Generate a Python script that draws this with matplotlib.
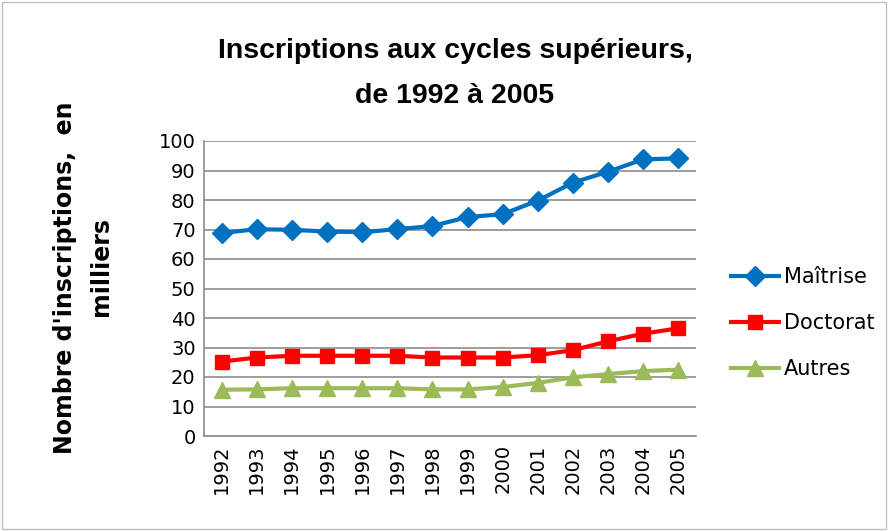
import matplotlib.pyplot as plt
from matplotlib.patches import Rectangle

# données (milliers d'inscriptions)
annees = ["1992", "1993", "1994", "1995", "1996", "1997", "1998",
          "1999", "2000", "2001", "2002", "2003", "2004", "2005"]
maitrise = [68.8, 70.1, 69.9, 69.3, 69.1, 70.1, 71.2,
            74.2, 75.2, 79.8, 85.9, 89.6, 93.8, 94.1]
doctorat = [25.2, 26.6, 27.2, 27.2, 27.2, 27.2, 26.6,
            26.6, 26.6, 27.4, 29.1, 32.1, 34.7, 36.5]
autres = [15.7, 15.8, 16.2, 16.2, 16.2, 16.2, 15.8,
          15.8, 16.6, 18.0, 19.9, 21.0, 22.0, 22.5]


def main():
    plt.rcParams["font.family"] = ["DejaVu Sans"]

    fig = plt.figure(figsize=(8.89, 5.31), dpi=100)
    ax = fig.add_axes([204 / 889, 1 - 436 / 531, 492 / 889, 295 / 531])

    x = range(len(annees))
    ax.plot(x, maitrise, color="#0070C0", marker="D", markersize=10.5,
            linewidth=3, label="Maîtrise")
    ax.plot(x, doctorat, color="#FF0000", marker="s", markersize=10.5,
            linewidth=3, label="Doctorat")
    ax.plot(x, autres, color="#9BBB59", marker="^", markersize=12,
            linewidth=3, label="Autres")

    ax.set_xlim(-0.5, len(annees) - 0.5)
    ax.set_ylim(0, 100)
    ax.set_yticks(range(0, 101, 10))
    ax.set_xticks(list(x))
    ax.set_xticklabels(annees, rotation=90)
    ax.tick_params(axis="both", labelsize=14, length=0, pad=6)
    ax.grid(axis="y", color="#8C8C8C", linewidth=1.2)
    ax.set_axisbelow(True)
    for cote in ["top", "right"]:
        ax.spines[cote].set_visible(False)
    for cote in ["left", "bottom"]:
        ax.spines[cote].set_color("#8C8C8C")
        ax.spines[cote].set_linewidth(1.2)

    # titre sur deux lignes
    titre = dict(ha="center", va="center", fontsize=20.5, fontweight="bold",
                 family=["Liberation Sans", "DejaVu Sans"])
    fig.text(455 / 889, 1 - 51 / 531, "Inscriptions aux cycles supérieurs,", **titre)
    fig.text(455 / 889, 1 - 96 / 531, "de 1992 à 2005", **titre)

    # titre de l'axe vertical
    lab = dict(ha="center", va="center", rotation=90, fontsize=17,
               fontweight="bold")
    fig.text(65 / 889, 1 - 278 / 531, "Nombre d'inscriptions,  en", **lab)
    fig.text(101 / 889, 1 - 267 / 531, "milliers", **lab)

    fig.legend(loc="center left", bbox_to_anchor=(731 / 889, 1 - 323 / 531),
               frameon=False, fontsize=15, labelspacing=1.25,
               handlelength=2.3, handletextpad=0.25, borderpad=0,
               borderaxespad=0)

    # cadre extérieur du graphique
    fig.add_artist(Rectangle((0.002, 0.003), 0.995, 0.993,
                             transform=fig.transFigure, fill=False,
                             edgecolor="#BFBFBF", linewidth=1))

    fig.savefig("out.png", dpi=100)


if __name__ == "__main__":
    main()
